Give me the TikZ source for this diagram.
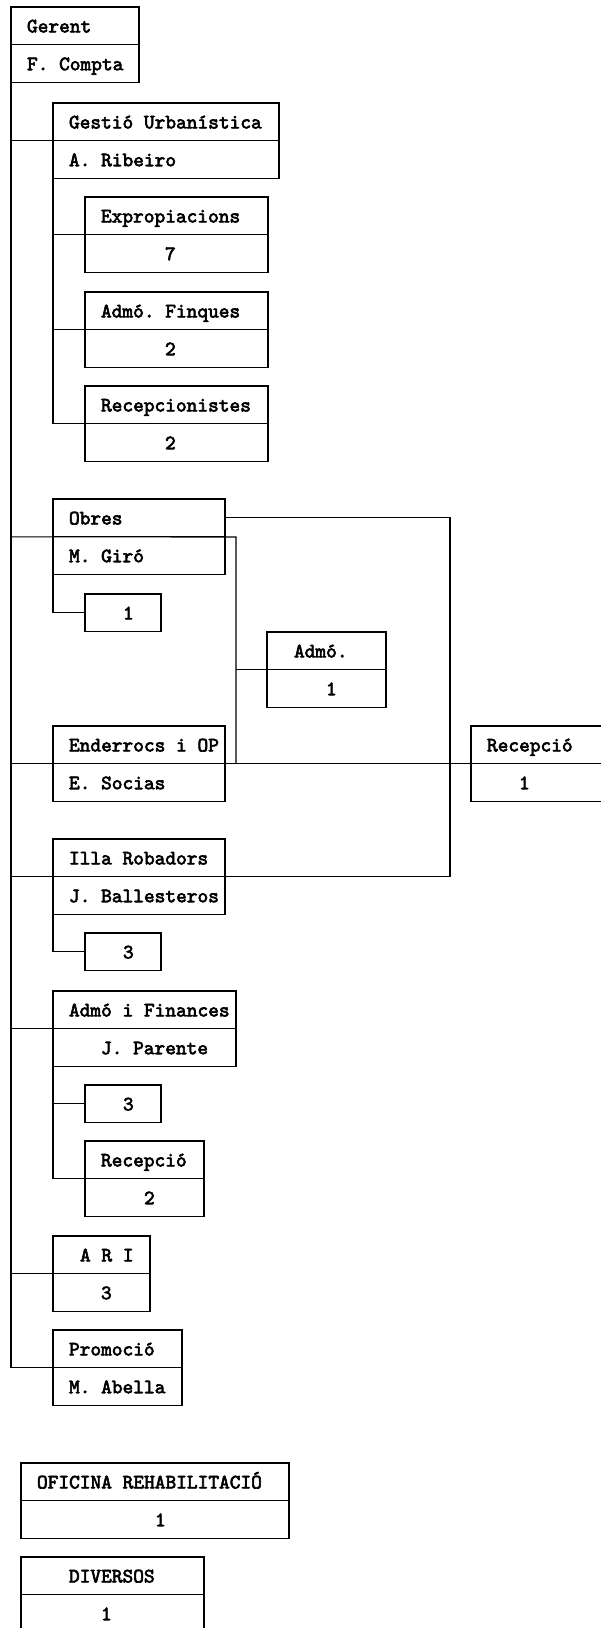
\documentclass[tikz,border=0pt]{standalone}
\usepackage{fontspec}
\newfontfamily\orgfont[FakeBold=3]{lmmono10-regular.otf}
\usetikzlibrary{positioning}
\newcommand{\ind}[1]{\spaceskip=0pt\xspaceskip=0pt\hspace*{#1pt}}
\frenchspacing

\begin{document}
\begin{tikzpicture}[x=1pt,y=-1pt,
    cell/.style={draw, line width=1.3pt, inner sep=0pt, outer sep=0pt,
      text width=#1, minimum height=37.8pt, text height=16pt, text depth=3pt,
      font=\orgfont\fontsize{20.4}{22}\selectfont},
    wire/.style={line width=1.1pt}]

  \useasboundingbox (0,0) rectangle (601,1628);
  \clip (0,0) rectangle (601,1628);

  % caixes
  \begin{scope}[every node/.style={anchor=north west}]
    \node[cell=128pt] (gerent) at (11,7) {\ind{16}Gerent};
    \node[cell=226pt] (gestio) at (53,103) {\ind{16}Gestió Urbanística};
    \node[cell=183pt] (exprop) at (85,197) {\ind{16}Expropiacions};
    \node[cell=183pt] (finques) at (85,292) {\ind{16}Admó. Finques};
    \node[cell=183pt] (recepc) at (85,386) {\ind{16}Recepcionistes};
    \node[cell=172pt] (obres) at (53,499) {\ind{16}Obres};
    \node[cell=76pt] (obres1) at (85,594) {\ind{38}1};
    \node[cell=119pt] (admo) at (267,632) {\ind{27}Admó.};
    \node[cell=172pt] (enderrocs) at (53,726) {\ind{16}Enderrocs i OP};
    \node[cell=135pt] (recep) at (471,726) {\ind{16}Recepció};
    \node[cell=172pt] (illa) at (53,839) {\ind{16}Illa Robadors};
    \node[cell=76pt] (illa3) at (85,933) {\ind{38}3};
    \node[cell=183pt] (finances) at (53,991) {\ind{16}Admó i Finances};
    \node[cell=76pt] (fin3) at (85,1085) {\ind{38}3};
    \node[cell=119pt] (recepcio2) at (85,1141) {\ind{16}Recepció};
    \node[cell=97pt] (ari) at (53,1236) {\ind{27}A R I};
    \node[cell=129pt] (promocio) at (53,1330) {\ind{16}Promoció};
    \node[cell=268pt] (oficina) at (21,1463) {\ind{16}OFICINA REHABILITACIÓ};
    \node[cell=183pt] (diversos) at (21,1557) {\ind{48}DIVERSOS};
  \end{scope}

  \node[cell=128pt, below=0pt of gerent] (compta) {\ind{16}F. Compta};
  \node[cell=226pt, below=0pt of gestio] (ribeiro) {\ind{16}A. Ribeiro};
  \node[cell=183pt, below=0pt of exprop] (exprop2) {\ind{80}7};
  \node[cell=183pt, below=0pt of finques] (finques2) {\ind{80}2};
  \node[cell=183pt, below=0pt of recepc] (recepc2) {\ind{80}2};
  \node[cell=172pt, below=0pt of obres] (giro) {\ind{16}M. Giró};
  \node[cell=119pt, below=0pt of admo] (admo2) {\ind{59}1};
  \node[cell=172pt, below=0pt of enderrocs] (socias) {\ind{16}E. Socias};
  \node[cell=135pt, below=0pt of recep] (recep2) {\ind{48}1};
  \node[cell=172pt, below=0pt of illa] (ballesteros) {\ind{16}J. Ballesteros};
  \node[cell=183pt, below=0pt of finances] (parente) {\ind{48}J. Parente};
  \node[cell=119pt, below=0pt of recepcio2] (recepcio22) {\ind{59}2};
  \node[cell=97pt, below=0pt of ari] (ari2) {\ind{48}3};
  \node[cell=129pt, below=0pt of promocio] (abella) {\ind{16}M. Abella};
  \node[cell=268pt, below=0pt of oficina] (oficina2) {\ind{134}1};
  \node[cell=183pt, below=0pt of diversos] (diversos2) {\ind{80}1};

  % tronc
  \draw[wire] (compta.south west) |- (promocio.south west);
  \draw[wire] (compta.south west |- gestio.south) -- (gestio.south west);
  \draw[wire] (compta.south west |- finances.south) -- (finances.south west);
  \draw[wire] (compta.south west |- ari.south) -- (ari.south west);

  % gestio
  \draw[wire] (ribeiro.south west) |- (recepc.south west);
  \draw[wire] (ribeiro.south west |- exprop.south) -- (exprop.south west);
  \draw[wire] (ribeiro.south west |- finques.south) -- (finques.south west);

  % obres, enderrocs, illa
  \coordinate (obus) at (236,537);
  \coordinate (rbus) at (450,518);
  \draw[wire] (compta.south west |- obres.south) -- (obus) -- (obus |- enderrocs.south);
  \draw[wire] (obus |- admo.south) -- (admo.south west);
  \draw[wire] (giro.south west) |- (obres1.west);
  \draw[wire] (compta.south west |- enderrocs.south) -- (recep.south west);
  \draw[wire] (obres.east) -| (rbus |- illa.south) -- (compta.south west |- illa.south);
  \draw[wire] (ballesteros.south west) |- (illa3.west);

  % finances
  \draw[wire] (parente.south west) |- (recepcio2.south west);
  \draw[wire] (parente.south west |- fin3.west) -- (fin3.west);

\end{tikzpicture}
\end{document}
